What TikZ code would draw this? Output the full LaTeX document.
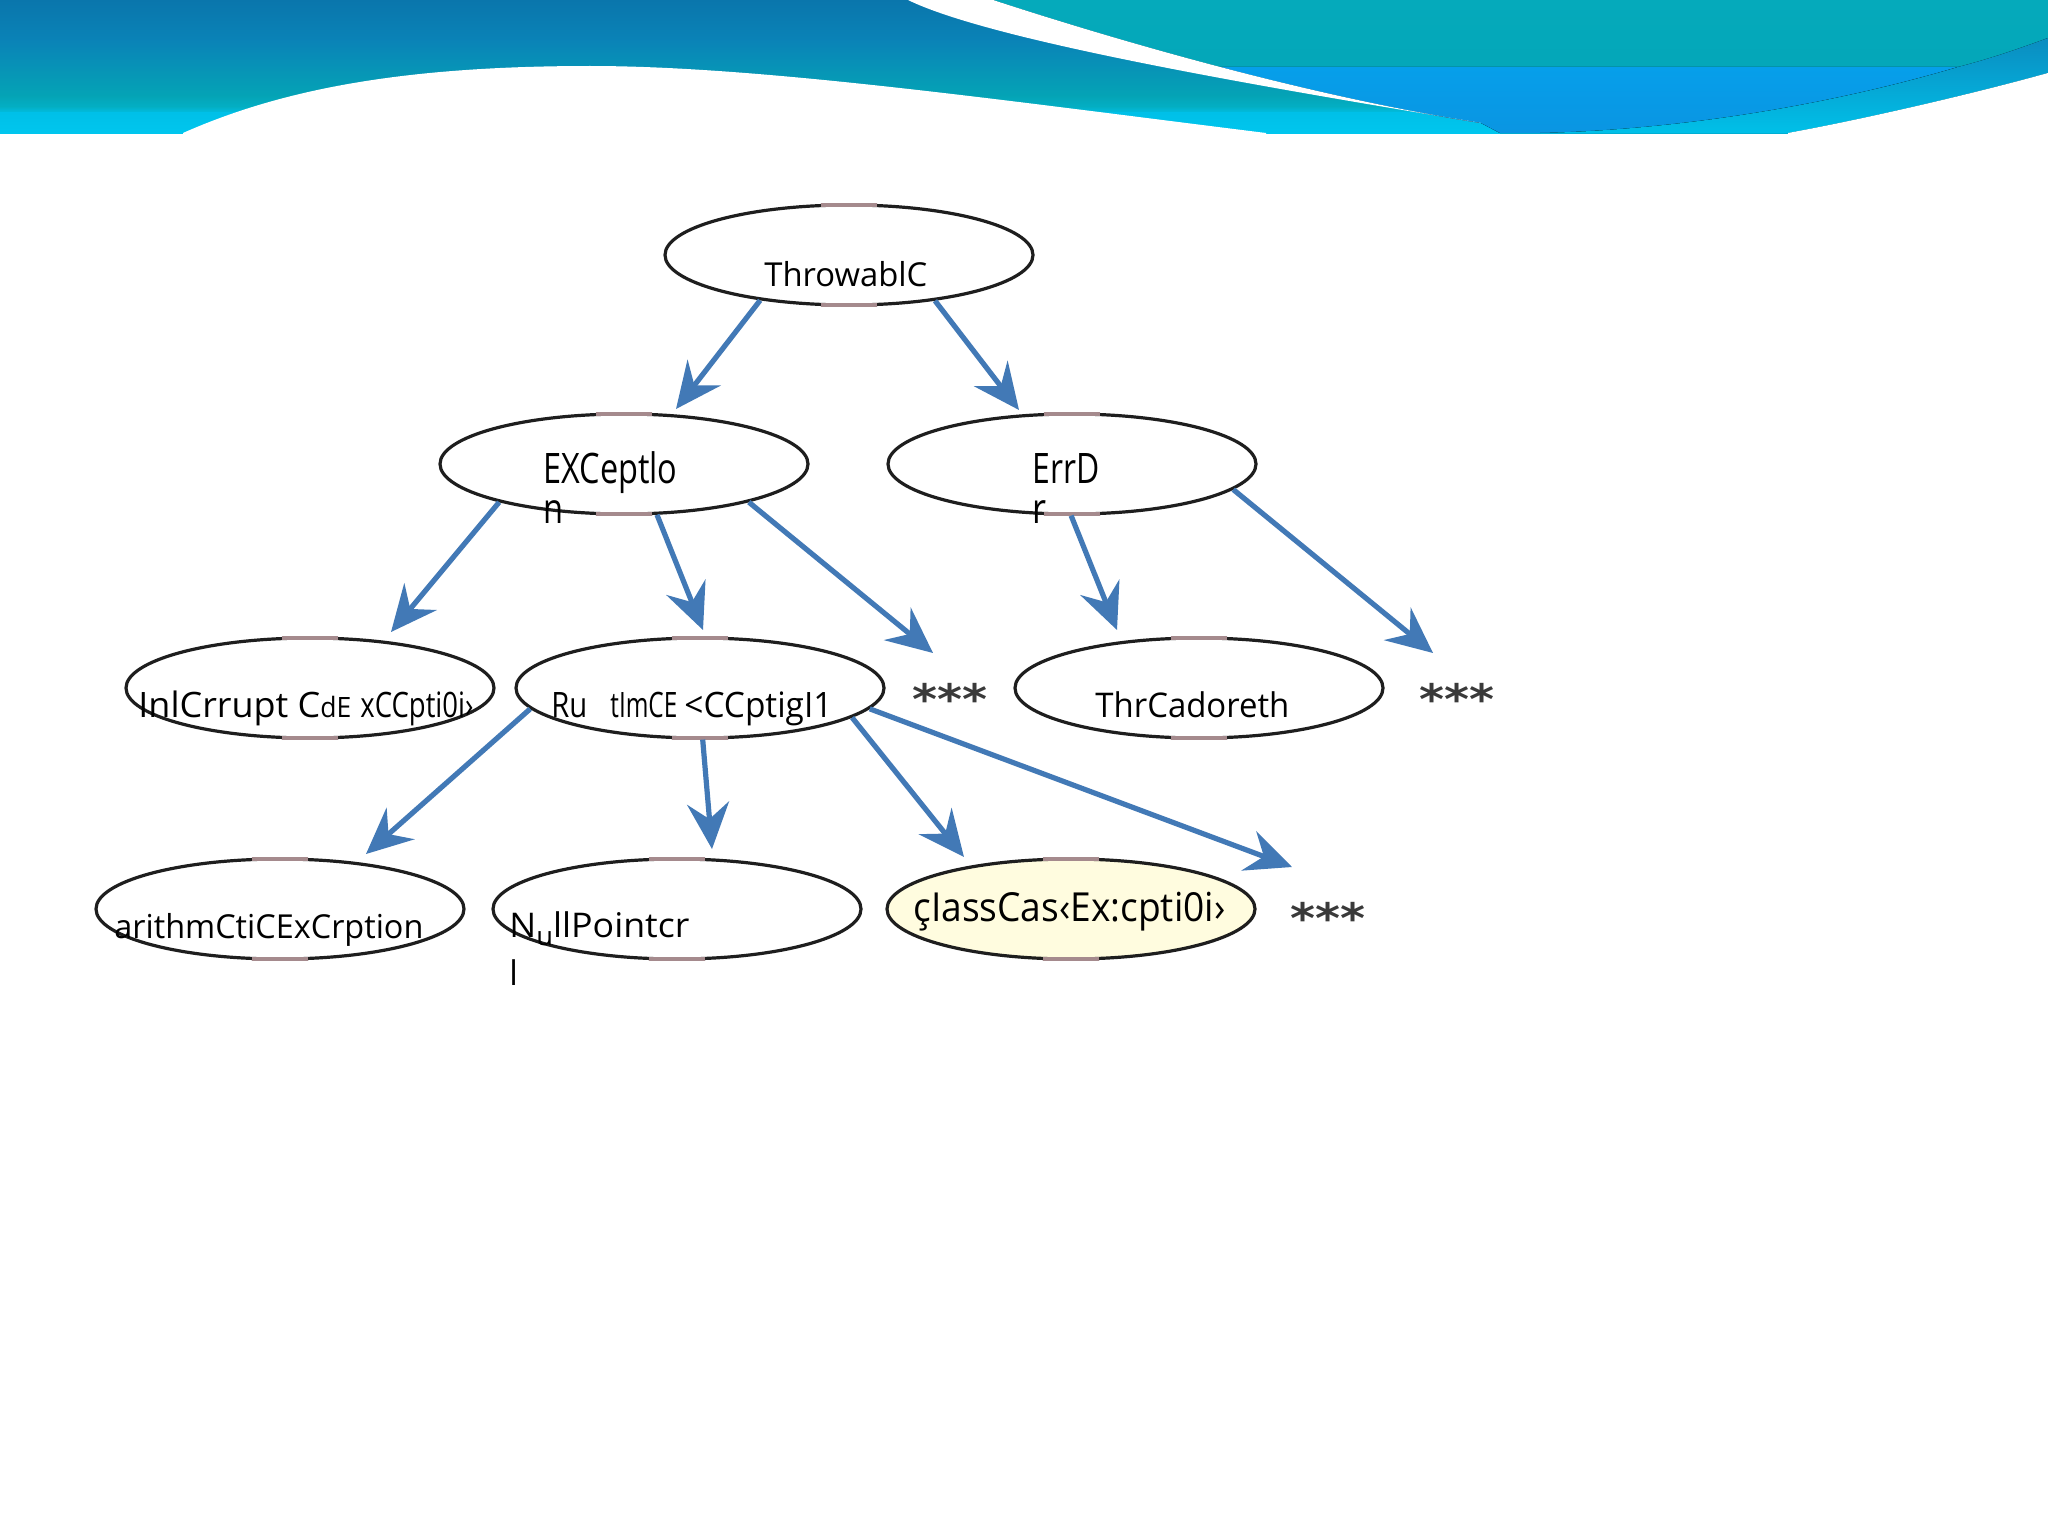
\documentclass[tikz,border=0pt]{standalone}
\usepackage{graphicx}
\usepackage{fontspec}
\setmainfont{Open Sans}
\newfontfamily\starfont{DejaVu Sans}
\usetikzlibrary{arrows.meta,shapes.geometric}
\definecolor{arrowblue}{HTML}{4279B6}
\definecolor{ellline}{HTML}{1E1E1E}
\definecolor{ellpink}{HTML}{A58A8D}
\definecolor{paleyellow}{HTML}{FFFCDF}
\definecolor{stargray}{HTML}{3A3A3A}
\definecolor{bandA}{HTML}{0A76AC}
\definecolor{bandB}{HTML}{0A83B7}
\definecolor{bandC}{HTML}{04A4B6}
\definecolor{bandD}{HTML}{03B0C6}
\definecolor{bandE}{HTML}{00C0E8}
\definecolor{bandF}{HTML}{00C6EE}
\definecolor{tealA}{HTML}{05AABB}
\definecolor{tealB}{HTML}{03A5B8}
\definecolor{blueA}{HTML}{069FEA}
\definecolor{blueB}{HTML}{0A95E2}
\definecolor{darkteal}{HTML}{0B8CC0}
\newcommand{\fw}[2]{\resizebox{#1}{\height}{#2}}
\tikzset{
  cls/.style={draw=ellline, line width=1.6pt, ellipse, minimum width=184pt,
    minimum height=50pt, inner sep=0pt, fill=white},
  pinkseg/.style={draw=ellpink, line width=1.8pt},
  inh/.style={draw=arrowblue, line width=2.6pt,
    -{Stealth[length=23pt,width=21pt,inset=8pt]}},
  lbl/.style={anchor=base west, inner sep=0pt, text=black},
  more/.style={anchor=base, inner sep=0pt, text=stargray,
    font=\starfont\bfseries\fontsize{21}{21}\selectfont}
}
\newcommand{\ellsegs}[1]{%
  \draw[pinkseg] ([xshift=-14pt,yshift=-0.8pt]#1.north) -- ([xshift=14pt,yshift=-0.8pt]#1.north);
  \draw[pinkseg] ([xshift=-14pt,yshift=0.8pt]#1.south) -- ([xshift=14pt,yshift=0.8pt]#1.south);}
\begin{document}
\begin{tikzpicture}[x=0.5pt,y=-0.5pt]
\useasboundingbox (0,0) rectangle (2048,1536);
\fill[white] (0,0) rectangle (2048,1536);
% ---------- banner ----------
\fill[top color=bandA, bottom color=bandB] (0,0) rectangle (2048,41);
\fill[top color=bandB, bottom color=bandC] (0,40) rectangle (2048,97);
\fill[top color=bandC, bottom color=bandD] (0,96) rectangle (2048,108);
\fill[top color=bandD, bottom color=bandE] (0,107) rectangle (2048,114);
\fill[top color=bandE, bottom color=bandF] (0,113) rectangle (2048,133);
% right region (right of the streak)
\begin{scope}
  \clip (993,0) -- (2048,0) -- (2048,133) -- (1500,133) -- (1481,123)
        .. controls (1300,95) and (1100,35) .. (993,0) -- cycle;
  \fill[top color=tealA, bottom color=tealB] (980,0) rectangle (2048,97);
  \fill[top color=tealB, bottom color=bandE] (980,96) rectangle (2048,113);
  \fill[top color=bandE, bottom color=bandF] (980,112) rectangle (2048,133);
  \fill[top color=blueA, bottom color=blueB] (1000,67) -- (1958,67)
        .. controls (1830,105) and (1680,130) .. (1540,133) -- (1500,133)
        -- (1481,123) -- (1000,123) -- cycle;
  \fill[top color=darkteal, middle color=tealB, bottom color=bandE] (2048,38)
        .. controls (2010,52) and (1985,60) .. (1958,67)
        .. controls (1830,105) and (1680,130) .. (1540,133) -- (1788,133)
        .. controls (1870,118) and (1980,92) .. (2048,73) -- cycle;
\end{scope}
% white shapes
\fill[white] (1788,133) .. controls (1870,118) and (1980,92) .. (2048,73)
      -- (2052,73) -- (2052,142) -- (1788,142) -- cycle;
\fill[white] (183,133) .. controls (280,90) and (400,66) .. (590,66)
      .. controls (760,66) and (1000,100) .. (1266,133) -- (1266,142) -- (183,142) -- cycle;
\fill[white] (908,0) .. controls (990,40) and (1250,85) .. (1481,123)
      .. controls (1300,95) and (1100,35) .. (993,0) -- cycle;
% ---------- class nodes ----------
\node[cls] (thr) at (849,255) {};
\node[cls] (exc) at (624,464) {};
\node[cls] (err) at (1072,464) {};
\node[cls] (intr) at (310,688) {};
\node[cls] (rte) at (700,688) {};
\node[cls] (thd) at (1199,688) {};
\node[cls] (ari) at (280,909) {};
\node[cls] (npe) at (677,909) {};
\node[cls, fill=paleyellow] (cce) at (1071,909) {};
\ellsegs{thr}\ellsegs{exc}\ellsegs{err}\ellsegs{intr}\ellsegs{rte}
\ellsegs{thd}\ellsegs{ari}\ellsegs{npe}\ellsegs{cce}
% ---------- labels ----------
\node[lbl, font=\fontsize{16.5}{16.5}\selectfont] (thr-t) at (764,286) {\fw{81.5pt}{ThrowablC}};
\node[lbl, font=\fontsize{21}{21}\selectfont] (exc-t) at (543,483) {\fw{67pt}{EXCeptlo}};
\node[lbl, font=\fontsize{21}{21}\selectfont] (exc-t2) at (543,523) {\fw{10pt}{n}};
\node[lbl, font=\fontsize{21}{21}\selectfont] (err-t) at (1032,483) {\fw{33.5pt}{ErrD}};
\node[lbl, font=\fontsize{21}{21}\selectfont] (err-t2) at (1032,523) {\fw{7pt}{r}};
\node[lbl, font=\fontsize{17.5}{17.5}\selectfont] (intr-t) at (138,717)
  {\fw{91pt}{InlCrrupt C}\fw{15.5pt}{\fontsize{14}{14}\selectfont dE}\hspace{4.5pt}\fw{56.5pt}{xCCpti0i›}};
\node[lbl, font=\fontsize{17.5}{17.5}\selectfont] (rte-t) at (551,717)
  {\fw{18pt}{Ru}\hspace{11.5pt}\fw{33.5pt}{tImCE}\hspace{3.5pt}\fw{74pt}{<CCptigI1}};
\node[lbl, font=\fontsize{17}{17}\selectfont] (thd-t) at (1095,717) {\fw{97pt}{ThrCadoreth}};
\node[lbl, font=\fontsize{16.5}{16.5}\selectfont] (ari-t) at (114,938) {\fw{154.5pt}{arithmCtiCExCrption}};
\node[lbl, font=\fontsize{17}{17}\selectfont] (npe-t) at (509,937)
  {\fw{90pt}{N\raisebox{-4pt}{\fontsize{13}{13}\selectfont u}llPointcr}};
\node[lbl, font=\fontsize{17}{17}\selectfont] (npe-t2) at (509,985) {l};
\node[lbl, font=\fontsize{20}{20}\selectfont] (cce-t) at (913,921) {\fw{156pt}{çIassCas‹Ex:cpti0i›}};
% ---------- "more" markers ----------
\node[more] (m1) at (950,714) {\fw{37.5pt}{***}};
\node[more] (m2) at (1457,714) {\fw{37.5pt}{***}};
\node[more] (m3) at (1328,933) {\fw{37.5pt}{***}};
% ---------- arrow tips ----------
\coordinate (t-exc) at (676,409);
\coordinate (t-err) at (1019,410);
\coordinate (t-intr) at (391,632);
\coordinate (t-rte) at (703,630);
\coordinate (t-exm) at (933,653);
\coordinate (t-thd) at (1117,630);
\coordinate (t-erm) at (1433,653);
\coordinate (t-ari) at (366,854);
\coordinate (t-npe) at (712,849);
\coordinate (t-cce) at (964,857);
\coordinate (t-rtm) at (1292,867);
% ---------- arrows ----------
\draw[inh] (thr.207) -- (t-exc);
\draw[inh] (thr.332) -- (t-err);
\draw[inh] (exc.197) -- (t-intr);
\draw[inh] (exc.303) -- (t-rte);
\draw[inh] (exc.343) -- (t-exm);
\draw[inh] (err.269) -- (t-thd);
\draw[inh] (err.351) -- (t-erm);
\draw[inh] (rte.187) -- (t-ari);
\draw[inh] (rte.273) -- (t-npe);
\draw[inh] (rte.349) -- (t-cce);
\draw[inh] (rte.353) -- (t-rtm);
\end{tikzpicture}
\end{document}
